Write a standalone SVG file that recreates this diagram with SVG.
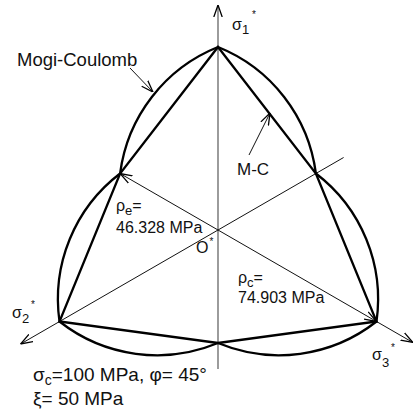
<svg xmlns="http://www.w3.org/2000/svg" width="414" height="412" viewBox="0 0 414 412">
<style>
text{font-family:"Liberation Sans",Arial,sans-serif;fill:#111;font-size:16px}
.thick{fill:none;stroke:#000;stroke-width:2.3;stroke-linejoin:miter}
.thin{fill:none;stroke:#111;stroke-width:1}
.axis{fill:none;stroke:#666;stroke-width:1.3}
.sub{font-size:13px}
.star{font-size:10px}
.big{font-size:18.5px}
.mid{font-size:17px}
.note{font-size:19px}
.notesub{font-size:14px}
</style>
<defs>
<marker id="arr" viewBox="0 0 12 10" refX="12" refY="5" markerWidth="12" markerHeight="10" orient="auto" markerUnits="userSpaceOnUse">
<path d="M0,0.8 L12,5 L0,9.2" fill="none" stroke="#000" stroke-width="1.3"/>
</marker>
</defs>
<rect width="414" height="412" fill="#fff"/>
<g id="connectors">
<line class="axis" x1="218" y1="369" x2="218" y2="5" marker-end="url(#arr)"/>
<line class="thin" x1="343.6" y1="157.5" x2="20.6" y2="344" marker-end="url(#arr)"/>
<line class="thin" x1="218" y1="230" x2="120.1" y2="173.5" marker-end="url(#arr)"/>
<line class="thin" x1="218" y1="230" x2="376.5" y2="321.5" marker-end="url(#arr)"/>
<line class="thin" x1="376.5" y1="321.5" x2="412.9" y2="342.5" marker-end="url(#arr)"/>
<line class="thin" x1="130" y1="68" x2="153" y2="92" marker-end="url(#arr)"/>
<line class="thin" x1="249" y1="155" x2="270" y2="113" marker-end="url(#arr)"/>
</g>
<g id="mc-hexagon">
<path class="thick" d="M218,47 L315.9,173.5 L376.5,321.5 L218,343 L59.5,321.5 L120.1,173.5 Z"/>
</g>
<g id="mogi-coulomb">
<path class="thick" d="M218,47 A158,158 0 0 1 315.9,173.5 A158,158 0 0 1 376.5,321.5 A158,158 0 0 1 218,343 A158,158 0 0 1 59.5,321.5 A158,158 0 0 1 120.1,173.5 A158,158 0 0 1 218,47 Z"/>
</g>
<g id="labels">
<text class="big" x="17" y="66">Mogi-Coulomb</text>
<text class="mid" x="237" y="175">M-C</text>
<text x="232" y="30">σ<tspan class="sub" dy="4">1</tspan><tspan class="star" dx="3" dy="-16">*</tspan></text>
<text x="12" y="318">σ<tspan class="sub" dy="5">2</tspan><tspan class="star" dx="2" dy="-15">*</tspan></text>
<text x="372" y="360">σ<tspan class="sub" dy="7">3</tspan><tspan class="star" dx="2" dy="-16">*</tspan></text>
<text x="196" y="253">O<tspan class="star" dx="1" dy="-8">*</tspan></text>
<text x="116" y="211">ρ<tspan class="sub" dy="4">e</tspan><tspan dy="-4">=</tspan></text>
<text x="116" y="233">46.328 MPa</text>
<text x="238" y="283">ρ<tspan class="sub" dy="4">c</tspan><tspan dy="-4">=</tspan></text>
<text x="238" y="303">74.903 MPa</text>
<text class="note" x="33" y="381">σ<tspan class="notesub" dy="4">c</tspan><tspan dy="-4">=100 MPa, φ= 45°</tspan></text>
<text class="note" x="33" y="405">ξ= 50 MPa</text>
</g>
</svg>
